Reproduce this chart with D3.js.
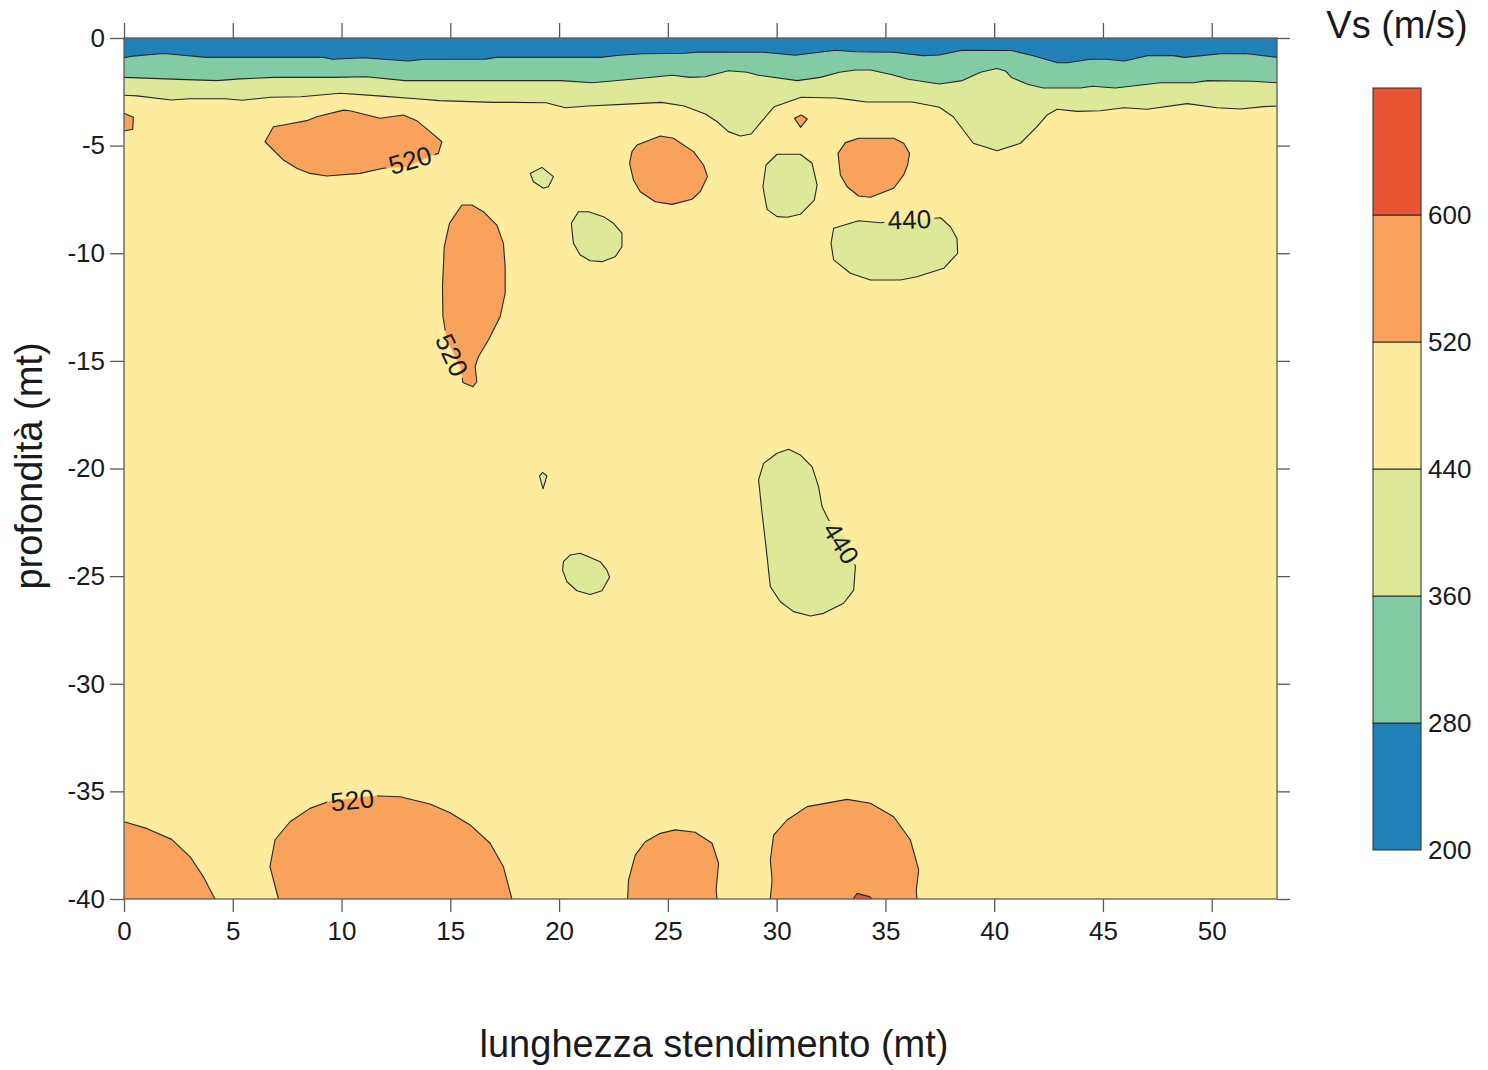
<!DOCTYPE html>
<html><head><meta charset="utf-8">
<script src="https://cdn.jsdelivr.net/npm/d3@7"></script>
<style>body{margin:0;background:#fff}svg{display:block;font-family:"Liberation Sans",Arial,sans-serif}</style>
</head><body><svg id="c" width="1488" height="1070"></svg>
<script>
// ---- data (x in metres along the line, depth in metres) ----
const xTicks=[0,5,10,15,20,25,30,35,40,45,50];
const yTicks=[0,-5,-10,-15,-20,-25,-30,-35,-40];
const levels=[200,280,360,440,520,600,680];
const levelLabels=[200,280,360,440,520,600];

const contour280=[[0,-0.92],[0.41,-0.84],[1.66,-0.73],[1.98,-0.73],[3.77,-0.90],[9.20,-0.90],[9.57,-0.99],[10.99,-0.92],[13.06,-1.07],[13.80,-0.99],[16.60,-0.98],[17.11,-0.90],[21.89,-0.90],[22.76,-0.80],[23.82,-0.73],[25.75,-0.71],[26.44,-0.65],[29.39,-0.66],[30.86,-0.80],[32.70,-0.57],[33.62,-0.64],[35.36,-0.66],[36.74,-0.82],[37.48,-0.79],[38.54,-0.57],[40.79,-0.58],[41.67,-0.79],[42.91,-1.15],[43.37,-1.15],[44.42,-0.99],[45.11,-0.99],[45.99,-1.07],[47.05,-0.82],[48.24,-0.82],[48.75,-0.90],[50.40,-0.73],[51.55,-0.72],[53,-0.90]];
const contour360=[[0,-1.83],[2.53,-1.92],[4.28,-1.98],[5.33,-1.90],[6.90,-1.83],[9.57,-1.83],[11.13,-1.80],[12.92,-1.98],[20.10,-1.98],[21.52,-2.08],[22.95,-1.95],[25.20,-1.73],[26.03,-1.83],[26.72,-1.80],[27.78,-1.52],[28.65,-1.59],[29.11,-1.72],[30.95,-1.98],[32.01,-1.83],[32.88,-1.59],[33.62,-1.49],[34.31,-1.49],[35.36,-1.72],[36.05,-1.92],[37.48,-2.14],[38.54,-1.98],[39.37,-1.59],[40.12,-1.42],[40.52,-1.53],[40.79,-1.83],[41.53,-2.15],[42.26,-2.32],[43.96,-2.32],[44.52,-2.24],[45.57,-2.32],[47.64,-2.08],[49.16,-2.08],[49.81,-1.98],[51.92,-2.01],[53,-2.08]];
const contour440=[[0,-2.66],[0.60,-2.69],[2.16,-2.88],[3.04,-2.82],[4.64,-2.82],[5.43,-2.89],[6.76,-2.75],[8.14,-2.73],[9.93,-2.57],[11.68,-2.69],[13.43,-2.82],[14.49,-2.91],[16.97,-2.99],[17.84,-2.99],[19.41,-3.01],[20.28,-3.24],[21.34,-3.16],[23.13,-3.07],[24.70,-2.99],[25.75,-3.16],[26.72,-3.53],[27.27,-3.89],[27.78,-4.35],[28.33,-4.55],[28.83,-4.46],[29.39,-3.78],[29.89,-3.19],[31.13,-2.75],[32.70,-2.79],[33.25,-2.85],[34.12,-2.97],[36.24,-2.97],[37.48,-3.22],[38.12,-3.66],[39.04,-4.89],[40.13,-5.24],[41.21,-4.89],[41.97,-4.12],[42.43,-3.58],[42.89,-3.31],[43.81,-3.41],[44.88,-3.38],[45.96,-3.24],[47.03,-3.31],[48.87,-3.05],[50.25,-3.24],[51.32,-3.30],[52.39,-3.19],[53,-3.16]];

const blobA=[[6.48,-4.82],[6.87,-4.12],[7.33,-4.04],[8.40,-3.84],[8.86,-3.66],[10.09,-3.35],[10.39,-3.38],[11.77,-3.73],[12.84,-3.58],[13.46,-3.84],[14.07,-4.35],[14.61,-4.82],[14.45,-5.36],[14.07,-5.51],[13.00,-5.98],[11.92,-6.05],[10.85,-6.29],[9.32,-6.41],[8.55,-6.29],[7.94,-6.05],[7.33,-5.67]];
const blobB=[[15.53,-7.76],[15.99,-7.76],[16.52,-8.07],[17.14,-8.69],[17.44,-9.54],[17.52,-10.63],[17.52,-11.86],[17.29,-12.95],[16.75,-14.03],[16.29,-14.81],[16.14,-15.27],[16.22,-15.97],[16.04,-16.20],[15.58,-16.01],[15.45,-15.27],[14.84,-14.03],[14.66,-12.95],[14.64,-11.55],[14.72,-9.70],[14.96,-8.61]];
const blobEdge=[[0,-3.50],[0.43,-3.68],[0.40,-4.24],[0,-4.32]];
const blobTri=[[30.82,-3.73],[31.13,-3.58],[31.41,-3.76],[31.10,-4.15]];
const blobC=[[18.67,-6.29],[19.21,-6.01],[19.74,-6.44],[19.51,-6.91],[19.28,-6.98],[18.82,-6.68]];
const blobD=[[20.89,-8.07],[21.35,-8.07],[22.04,-8.30],[22.50,-8.61],[22.89,-9.07],[22.89,-9.70],[22.58,-10.16],[21.97,-10.39],[21.43,-10.35],[20.97,-10.08],[20.66,-9.54],[20.56,-8.61]];
const blobE=[[23.58,-4.97],[24.65,-4.55],[25.26,-4.66],[26.18,-5.28],[26.64,-5.90],[26.82,-6.44],[26.49,-7.14],[26.11,-7.49],[25.19,-7.73],[24.42,-7.61],[23.73,-7.14],[23.42,-6.60],[23.24,-5.82],[23.35,-5.28]];
const blobF=[[30.02,-5.40],[31.09,-5.40],[31.63,-5.82],[31.86,-6.83],[31.73,-7.53],[31.09,-8.19],[30.48,-8.33],[30.02,-8.30],[29.56,-7.96],[29.37,-6.91],[29.51,-5.90]];
const blobG=[[33.16,-4.86],[33.77,-4.66],[35.38,-4.66],[35.84,-4.89],[36.11,-5.36],[36.02,-5.90],[35.84,-6.36],[35.38,-6.98],[34.31,-7.40],[33.77,-7.34],[33.24,-6.91],[32.93,-6.36],[32.82,-5.36]];
const blobH=[[32.62,-8.84],[33.77,-8.49],[34.77,-8.58],[37.53,-8.35],[37.99,-8.77],[38.29,-9.31],[38.32,-10.00],[37.68,-10.70],[36.45,-11.09],[35.69,-11.24],[34.31,-11.24],[33.39,-10.93],[32.62,-10.31],[32.50,-9.54]];
const blobSliver=[[19.10,-20.35],[19.24,-20.18],[19.44,-20.35],[19.26,-20.95]];
const blobI=[[20.20,-24.33],[20.51,-24.02],[20.97,-23.94],[21.89,-24.33],[22.20,-24.72],[22.32,-25.05],[21.97,-25.68],[21.43,-25.85],[20.82,-25.68],[20.36,-25.26],[20.16,-24.72]];
const blobJ=[[29.40,-19.76],[30.02,-19.29],[30.55,-19.11],[31.09,-19.37],[31.63,-19.92],[31.93,-20.85],[32.09,-21.78],[32.39,-22.39],[33.24,-23.32],[33.62,-24.56],[33.54,-25.65],[33.08,-26.26],[32.16,-26.73],[31.55,-26.85],[30.78,-26.65],[30.17,-26.19],[29.71,-25.49],[29.51,-23.63],[29.33,-22.08],[29.17,-20.53]];
const blobK=[[0,-36.41],[1.04,-36.72],[2.19,-37.23],[3.04,-38.04],[3.65,-38.97],[4.18,-40]];
const blobL=[[7.10,-40],[6.71,-38.50],[6.94,-37.26],[7.63,-36.41],[8.55,-35.79],[9.47,-35.45],[11.46,-35.20],[12.69,-35.25],[14.07,-35.59],[14.99,-35.99],[15.91,-36.56],[16.83,-37.41],[17.44,-38.50],[17.83,-40]];
const blobM=[[23.15,-40],[23.19,-39.12],[23.50,-37.96],[23.96,-37.34],[24.65,-36.95],[25.34,-36.79],[26.26,-36.90],[27.03,-37.41],[27.33,-38.34],[27.22,-39.58],[27.26,-40]];
const blobN=[[29.71,-40],[29.79,-39.12],[29.71,-38.19],[29.86,-37.03],[30.48,-36.33],[31.40,-35.71],[33.24,-35.37],[34.31,-35.55],[35.38,-36.18],[36.15,-37.26],[36.53,-38.65],[36.42,-39.58],[36.45,-40]];
const blobRed=[[33.51,-40],[33.70,-39.74],[34.27,-39.89],[34.39,-40]];

// band = lower Vs bound of the region's class
const regions=[
  {band:520,pts:blobA,closed:true},
  {band:520,pts:blobB,closed:true},
  {band:520,pts:blobEdge,closed:false},
  {band:520,pts:blobTri,closed:true},
  {band:360,pts:blobC,closed:true},
  {band:360,pts:blobD,closed:true},
  {band:520,pts:blobE,closed:true},
  {band:360,pts:blobF,closed:true},
  {band:520,pts:blobG,closed:true},
  {band:360,pts:blobH,closed:true},
  {band:360,pts:blobSliver,closed:true},
  {band:360,pts:blobI,closed:true},
  {band:360,pts:blobJ,closed:true},
  {band:520,pts:blobK,closed:false,corner:[[0,-40]]},
  {band:520,pts:blobL,closed:false},
  {band:520,pts:blobM,closed:false},
  {band:520,pts:blobN,closed:false},
  {band:600,pts:blobRed,closed:false}
];
const contourLabels=[
  {v:520,x:13.15,d:-5.67,angle:-16},
  {v:520,x:15.08,d:-14.73,angle:65},
  {v:440,x:36.10,d:-8.43,angle:-2},
  {v:440,x:32.97,d:-23.46,angle:58},
  {v:520,x:10.49,d:-35.40,angle:-6}
];

// ---- drawing ----
const palette=['#2381ba','#82cba4','#dde899','#feec9e','#f8a25c','#e85535'];
const color=d3.scaleThreshold().domain([280,360,440,520,600]).range(palette);
const svg=d3.select('#c');
const x=d3.scaleLinear().domain([0,53]).range([124,1277]);
const y=d3.scaleLinear().domain([0,-40]).range([38,899]);
const line=d3.line().x(d=>x(d[0])).y(d=>y(d[1]));
const area=d3.area().x(d=>x(d[0])).y0(y(0)).y1(d=>y(d[1]));
const lineColor='#262626';

// mask to break contour lines under labels
const defs=svg.append('defs');
const mask=defs.append('mask').attr('id','lm').attr('maskUnits','userSpaceOnUse')
  .attr('x',0).attr('y',0).attr('width',1488).attr('height',1070);
mask.append('rect').attr('width',1488).attr('height',1070).attr('fill','#fff');
mask.selectAll('rect.h').data(contourLabels).join('rect').attr('class','h')
  .attr('x',-25).attr('y',-11).attr('width',50).attr('height',22).attr('fill','#000')
  .attr('transform',d=>`translate(${x(d.x)},${y(d.d)}) rotate(${d.angle})`);

const plot=svg.append('g');
// base class (440-520)
plot.append('rect').attr('x',x(0)).attr('y',y(0)).attr('width',x(53)-x(0)).attr('height',y(-40)-y(0))
  .attr('fill',color(440));
plot.append('path').datum(contour440).attr('d',area).attr('fill',color(360));
plot.append('path').datum(contour360).attr('d',area).attr('fill',color(280));
plot.append('path').datum(contour280).attr('d',area).attr('fill',color(200));
plot.selectAll('path.reg').data(regions).join('path').attr('class','reg')
  .attr('d',d=>line(d.corner?d.pts.concat(d.corner):d.pts)+'Z')
  .attr('fill',d=>color(d.band));

const lines=svg.append('g').attr('mask','url(#lm)').attr('fill','none')
  .attr('stroke',lineColor).attr('stroke-width',1.1).attr('stroke-linejoin','round');
[contour280,contour360,contour440].forEach(c=>lines.append('path').attr('d',line(c)));
regions.forEach(r=>lines.append('path').attr('d',line(r.pts)+(r.closed?'Z':'')));

svg.append('g').selectAll('text').data(contourLabels).join('text')
  .attr('transform',d=>`translate(${x(d.x)},${y(d.d)}) rotate(${d.angle})`)
  .attr('text-anchor','middle').attr('dy','0.36em')
  .attr('font-size',26).attr('fill','#1a1a1a').text(d=>d.v);

// axes
const axisColor='#5a5a5a';
function style(g){
  g.select('.domain').remove();
  g.selectAll('.tick line').attr('stroke',axisColor).attr('stroke-width',1.3);
  g.selectAll('.tick text').attr('fill','#1a1a1a').attr('font-size',26)
   .attr('font-family','"Liberation Sans",Arial,sans-serif');
}
svg.append('g').attr('transform',`translate(0,${y(-40)})`)
  .call(d3.axisBottom(x).tickValues(xTicks).tickSize(13).tickPadding(10).tickFormat(d=>String(d))).call(style);
svg.append('g').attr('transform',`translate(0,${y(0)})`)
  .call(d3.axisTop(x).tickValues(xTicks).tickSize(15).tickFormat('')).call(style);
svg.append('g').attr('transform',`translate(${x(0)},0)`)
  .call(d3.axisLeft(y).tickValues(yTicks).tickSize(14).tickPadding(5).tickFormat(d=>String(d))).call(style);
svg.append('g').attr('transform',`translate(${x(53)},0)`)
  .call(d3.axisRight(y).tickValues(yTicks).tickSize(13).tickFormat('')).call(style);
svg.append('rect').attr('x',x(0)).attr('y',y(0)).attr('width',x(53)-x(0)).attr('height',y(-40)-y(0))
  .attr('fill','none').attr('stroke',axisColor).attr('stroke-width',1.3);

svg.append('text').attr('x',714).attr('y',1057).attr('text-anchor','middle')
  .attr('font-size',38).attr('fill','#1a1a1a').text('lunghezza stendimento (mt)');
svg.append('text').attr('transform','translate(42,466) rotate(-90)').attr('text-anchor','middle')
  .attr('font-size',38).attr('fill','#1a1a1a').text('profondità (mt)');

// colour bar
const cb=d3.scaleLinear().domain([200,680]).range([850,88]);
const cbg=svg.append('g');
cbg.selectAll('rect').data(d3.range(levels.length-1)).join('rect')
  .attr('x',1373).attr('width',48)
  .attr('y',i=>cb(levels[i+1])).attr('height',i=>cb(levels[i])-cb(levels[i+1]))
  .attr('fill',i=>color(levels[i])).attr('stroke','#2b2b2b').attr('stroke-width',1);
cbg.selectAll('text').data(levelLabels).join('text')
  .attr('x',1428).attr('y',d=>cb(d)).attr('dy','0.36em')
  .attr('font-size',26).attr('fill','#1a1a1a').text(d=>d);
svg.append('text').attr('x',1397).attr('y',38).attr('text-anchor','middle')
  .attr('font-size',38).attr('fill','#1a1a1a').text('Vs (m/s)');
</script></body></html>
